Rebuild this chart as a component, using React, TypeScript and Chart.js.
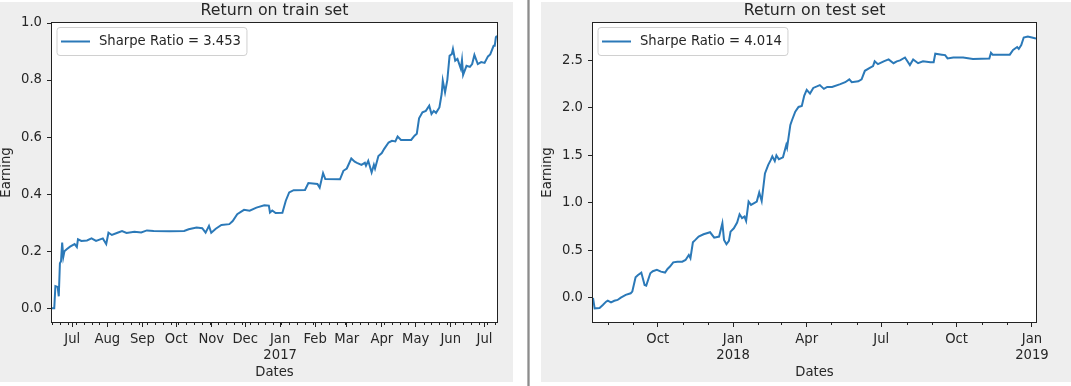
import React, { useEffect, useRef } from 'react';
import { Chart, registerables } from 'chart.js';

Chart.register(...registerables);

// ---------------- data ----------------
const trainDates = [
  '2016-06-13', '2016-06-15', '2016-06-16', '2016-06-18', '2016-06-19', '2016-06-20', '2016-06-21',
  '2016-06-22', '2016-06-23', '2016-06-24', '2016-06-26', '2016-06-29', '2016-07-03', '2016-07-05',
  '2016-07-06', '2016-07-09', '2016-07-14', '2016-07-18', '2016-07-22', '2016-07-28', '2016-07-31',
  '2016-08-02', '2016-08-05', '2016-08-10', '2016-08-14', '2016-08-18', '2016-08-25', '2016-08-31',
  '2016-09-05', '2016-09-11', '2016-09-25', '2016-10-08', '2016-10-12', '2016-10-19', '2016-10-24',
  '2016-10-27', '2016-10-30', '2016-11-01', '2016-11-05', '2016-11-10', '2016-11-17', '2016-11-20',
  '2016-11-24', '2016-11-30', '2016-12-05', '2016-12-11', '2016-12-18', '2016-12-22', '2016-12-23',
  '2016-12-25', '2016-12-28', '2017-01-03', '2017-01-06', '2017-01-09', '2017-01-13', '2017-01-23',
  '2017-01-26', '2017-02-03', '2017-02-05', '2017-02-08', '2017-02-10', '2017-02-23', '2017-02-26',
  '2017-03-01', '2017-03-05', '2017-03-08', '2017-03-10', '2017-03-14', '2017-03-17', '2017-03-18',
  '2017-03-20', '2017-03-23', '2017-03-25', '2017-03-26', '2017-03-29', '2017-04-01', '2017-04-03',
  '2017-04-07', '2017-04-10', '2017-04-13', '2017-04-15', '2017-04-18', '2017-04-27', '2017-04-30',
  '2017-05-02', '2017-05-04', '2017-05-07', '2017-05-10', '2017-05-13', '2017-05-15', '2017-05-17',
  '2017-05-19', '2017-05-22', '2017-05-24', '2017-05-25', '2017-05-27', '2017-05-29', '2017-05-31',
  '2017-06-02', '2017-06-03', '2017-06-05', '2017-06-07', '2017-06-10', '2017-06-11', '2017-06-12',
  '2017-06-15', '2017-06-18', '2017-06-20', '2017-06-22', '2017-06-25', '2017-06-28', '2017-07-01',
  '2017-07-04', '2017-07-06', '2017-07-09', '2017-07-10', '2017-07-11', '2017-07-12',
];
const trainValues = [
  0.0, 0.0, 0.078, 0.075, 0.042, 0.158, 0.165,
  0.23, 0.18, 0.2, 0.207, 0.216, 0.225, 0.215,
  0.242, 0.236, 0.238, 0.245, 0.236, 0.245, 0.225,
  0.265, 0.257, 0.265, 0.271, 0.264, 0.268, 0.266,
  0.273, 0.271, 0.27, 0.271, 0.277, 0.283, 0.281,
  0.265, 0.289, 0.265, 0.279, 0.292, 0.295, 0.306,
  0.33, 0.345, 0.342, 0.353, 0.361, 0.36, 0.336,
  0.343, 0.334, 0.335, 0.377, 0.406, 0.414, 0.415,
  0.439, 0.436, 0.423, 0.474, 0.453, 0.452, 0.482,
  0.49, 0.525, 0.514, 0.51, 0.503, 0.51, 0.5,
  0.517, 0.476, 0.503, 0.49, 0.534, 0.544, 0.558,
  0.581, 0.587, 0.585, 0.602, 0.59, 0.59, 0.605,
  0.612, 0.666, 0.687, 0.692, 0.71, 0.681, 0.692,
  0.685, 0.704, 0.751, 0.798, 0.757, 0.8, 0.885,
  0.891, 0.909, 0.868, 0.874, 0.839, 0.87, 0.818,
  0.85, 0.846, 0.856, 0.888, 0.856, 0.863, 0.86,
  0.883, 0.89, 0.92, 0.92, 0.95, 0.955,
];

const testDates = [
  '2017-07-14', '2017-07-16', '2017-07-22', '2017-07-26', '2017-07-30', '2017-08-01', '2017-08-05',
  '2017-08-09', '2017-08-13', '2017-08-17', '2017-08-23', '2017-08-29', '2017-08-31', '2017-09-04',
  '2017-09-07', '2017-09-11', '2017-09-15', '2017-09-17', '2017-09-22', '2017-09-25', '2017-09-30',
  '2017-10-05', '2017-10-10', '2017-10-13', '2017-10-16', '2017-10-20', '2017-10-25', '2017-10-31',
  '2017-11-04', '2017-11-08', '2017-11-10', '2017-11-13', '2017-11-16', '2017-11-20', '2017-11-26',
  '2017-12-04', '2017-12-09', '2017-12-15', '2017-12-19', '2017-12-21', '2017-12-24', '2017-12-27',
  '2017-12-29', '2018-01-02', '2018-01-06', '2018-01-09', '2018-01-12', '2018-01-15', '2018-01-17',
  '2018-01-20', '2018-01-23', '2018-01-30', '2018-02-02', '2018-02-05', '2018-02-09', '2018-02-13',
  '2018-02-16', '2018-02-18', '2018-02-21', '2018-02-23', '2018-02-26', '2018-03-03', '2018-03-07',
  '2018-03-08', '2018-03-12', '2018-03-14', '2018-03-18', '2018-03-22', '2018-03-26', '2018-03-29',
  '2018-04-01', '2018-04-05', '2018-04-09', '2018-04-17', '2018-04-22', '2018-04-26', '2018-05-02',
  '2018-05-12', '2018-05-18', '2018-05-23', '2018-05-26', '2018-06-03', '2018-06-07', '2018-06-11',
  '2018-06-17', '2018-06-21', '2018-06-23', '2018-06-27', '2018-07-04', '2018-07-10', '2018-07-16',
  '2018-07-20', '2018-07-24', '2018-07-30', '2018-08-05', '2018-08-09', '2018-08-15', '2018-08-21',
  '2018-08-30', '2018-09-03', '2018-09-05', '2018-09-13', '2018-09-17', '2018-09-20', '2018-09-27',
  '2018-10-09', '2018-10-21', '2018-11-10', '2018-11-12', '2018-11-14', '2018-12-05', '2018-12-09',
  '2018-12-14', '2018-12-16', '2018-12-19', '2018-12-22', '2018-12-27', '2019-01-01', '2019-01-06',
];
const testValues = [
  0.0, -0.109, -0.105, -0.074, -0.039, -0.028, -0.046,
  -0.03, -0.021, 0.004, 0.032, 0.049, 0.067, 0.218,
  0.242, 0.267, 0.137, 0.13, 0.26, 0.281, 0.295,
  0.277, 0.267, 0.305, 0.33, 0.375, 0.382, 0.382,
  0.4, 0.453, 0.418, 0.586, 0.611, 0.646, 0.67,
  0.691, 0.635, 0.646, 0.786, 0.611, 0.565, 0.6,
  0.698, 0.733, 0.793, 0.88, 0.84, 0.856, 0.81,
  1.014, 0.979, 1.014, 1.11, 1.02, 1.31, 1.4,
  1.45, 1.49, 1.44, 1.5, 1.46, 1.48, 1.61,
  1.58, 1.82, 1.87, 1.96, 2.01, 2.02, 2.13,
  2.19, 2.15, 2.21, 2.24, 2.2, 2.22, 2.22,
  2.25, 2.27, 2.3, 2.27, 2.28, 2.3, 2.39,
  2.42, 2.44, 2.49, 2.46, 2.49, 2.51, 2.47,
  2.49, 2.5, 2.53, 2.45, 2.51, 2.47, 2.49,
  2.48, 2.48, 2.57, 2.56, 2.555, 2.52, 2.53,
  2.53, 2.515, 2.52, 2.58, 2.56, 2.56, 2.61,
  2.64, 2.62, 2.66, 2.74, 2.75, 2.74, 2.73,
];

const trainMajorDates = [
  '2016-07-01', '2016-08-01', '2016-09-01', '2016-10-01', '2016-11-01', '2016-12-01', '2017-01-01',
  '2017-02-01', '2017-03-01', '2017-04-01', '2017-05-01', '2017-06-01', '2017-07-01',
];
const trainMajorLabels = [
  'Jul', 'Aug', 'Sep', 'Oct', 'Nov', 'Dec', 'Jan\n2017', 'Feb', 'Mar', 'Apr', 'May', 'Jun', 'Jul',
];
const testMajorDates = ['2017-10-01', '2018-01-01', '2018-04-01', '2018-07-01', '2018-10-01', '2019-01-01'];
const testMajorLabels = ['Oct', 'Jan\n2018', 'Apr', 'Jul', 'Oct', 'Jan\n2019'];

const trainYTicks = [0.0, 0.2, 0.4, 0.6, 0.8, 1.0];
const testYTicks = [0.0, 0.5, 1.0, 1.5, 2.0, 2.5];

const trainLegend = 'Sharpe Ratio = 3.453';
const testLegend = 'Sharpe Ratio = 4.014';

// ---------------- styling ----------------
const FAMILY = '"DejaVu Sans", sans-serif';
const TEXT = '#262626';
const AXIS = '#222222';
const LINE = '#2b79b8';
const PANEL_BG = '#eeeeee';
const TICK_SIZE = 13.2;
const TITLE_SIZE = 15.8;
const CANVAS_H = 380;

type Spec = {
  title: string;
  legend: string;
  dates: string[];
  values: number[];
  majorDates: string[];
  majorLabels: string[];
  minor: 'week' | 'month';
  yTicks: number[];
  yMin: number;
  yMax: number;
  width: number;
  rightPad: number;
};

function dayNum(s: string): number {
  const [y, m, d] = s.split('-').map(Number);
  return Date.UTC(y, m - 1, d) / 86400000;
}

function makePanelPlugin(spec: Spec, minors: number[]) {
  return {
    id: 'panelDecor',
    beforeDraw(chart: any) {
      const { ctx, chartArea: a, width, height } = chart;
      ctx.save();
      ctx.fillStyle = PANEL_BG;
      ctx.fillRect(0, 0, width, height);
      ctx.fillStyle = '#ffffff';
      ctx.fillRect(a.left, a.top, a.right - a.left, a.bottom - a.top);
      ctx.restore();
    },
    afterDraw(chart: any) {
      const { ctx, chartArea: a } = chart;
      const xs = chart.scales.x;
      ctx.save();
      // spines
      ctx.strokeStyle = AXIS;
      ctx.lineWidth = 1;
      ctx.strokeRect(a.left - 0.5, a.top - 0.5, a.right - a.left + 1, a.bottom - a.top + 1);
      // minor ticks
      ctx.beginPath();
      for (const m of minors) {
        const px = Math.round(xs.getPixelForValue(m)) + 0.5;
        ctx.moveTo(px, a.bottom);
        ctx.lineTo(px, a.bottom + 3);
      }
      ctx.stroke();
      // title
      ctx.fillStyle = TEXT;
      ctx.font = `${TITLE_SIZE}px ${FAMILY}`;
      ctx.textAlign = 'center';
      ctx.textBaseline = 'alphabetic';
      ctx.fillText(spec.title, (a.left + a.right) / 2, 13);
      // legend
      ctx.font = `${TICK_SIZE}px ${FAMILY}`;
      const tw = ctx.measureText(spec.legend).width;
      const bx = a.left + 5;
      const by = a.top + 4.5;
      const bw = 42 + tw + 6;
      const bh = 28;
      const r = 3;
      ctx.beginPath();
      ctx.moveTo(bx + r, by);
      ctx.lineTo(bx + bw - r, by);
      ctx.arcTo(bx + bw, by, bx + bw, by + r, r);
      ctx.lineTo(bx + bw, by + bh - r);
      ctx.arcTo(bx + bw, by + bh, bx + bw - r, by + bh, r);
      ctx.lineTo(bx + r, by + bh);
      ctx.arcTo(bx, by + bh, bx, by + bh - r, r);
      ctx.lineTo(bx, by + r);
      ctx.arcTo(bx, by, bx + r, by, r);
      ctx.closePath();
      ctx.fillStyle = 'rgba(255,255,255,0.8)';
      ctx.fill();
      ctx.strokeStyle = '#d0d0d0';
      ctx.lineWidth = 1;
      ctx.stroke();
      ctx.strokeStyle = LINE;
      ctx.lineWidth = 2;
      ctx.beginPath();
      ctx.moveTo(bx + 4, by + bh / 2);
      ctx.lineTo(bx + 33, by + bh / 2);
      ctx.stroke();
      ctx.fillStyle = TEXT;
      ctx.textAlign = 'left';
      ctx.textBaseline = 'middle';
      ctx.fillText(spec.legend, bx + 42, by + bh / 2 + 0.5);
      ctx.restore();
    },
  };
}

function buildChart(canvas: HTMLCanvasElement, spec: Spec) {
  const xs = spec.dates.map(dayNum);
  const points = xs.map((x, i) => ({ x, y: spec.values[i] }));
  const xMin = xs[0];
  const xMax = xs[xs.length - 1];
  const majors = spec.majorDates.map(dayNum);
  const minors: number[] = [];
  for (let d = Math.ceil(xMin); d <= xMax; d++) {
    if (majors.includes(d)) continue;
    if (spec.minor === 'week') {
      if (((d % 7) + 7) % 7 === 4) minors.push(d);
    } else {
      if (new Date(d * 86400000).getUTCDate() === 1) minors.push(d);
    }
  }
  const tickFont = { family: FAMILY, size: TICK_SIZE };
  const titleFont = { family: FAMILY, size: TICK_SIZE, lineHeight: 1.0 };

  return new Chart(canvas, {
    type: 'line',
    data: {
      datasets: [
        {
          label: spec.legend,
          data: points,
          borderColor: LINE,
          backgroundColor: LINE,
          borderWidth: 2,
          pointRadius: 0,
          tension: 0,
          fill: false,
        },
      ],
    },
    options: {
      animation: false,
      responsive: false,
      events: [],
      layout: { padding: { left: 0, right: spec.rightPad, top: 21, bottom: 0 } },
      plugins: {
        legend: { display: false },
        title: { display: false },
        tooltip: { enabled: false },
      },
      scales: {
        x: {
          type: 'linear',
          min: xMin,
          max: xMax,
          afterBuildTicks: (scale: any) => {
            scale.ticks = majors.map((v) => ({ value: v }));
          },
          afterFit: (scale: any) => {
            scale.height = 60;
          },
          ticks: {
            autoSkip: false,
            maxRotation: 0,
            minRotation: 0,
            padding: 5,
            color: TEXT,
            font: tickFont,
            callback: (value: any) => {
              const idx = majors.indexOf(Number(value));
              return idx >= 0 ? spec.majorLabels[idx].split('\n') : '';
            },
          },
          grid: {
            drawOnChartArea: false,
            drawTicks: true,
            tickLength: 5,
            color: AXIS,
            tickColor: AXIS,
            lineWidth: 1,
          },
          border: { display: false },
          title: {
            display: true,
            text: 'Dates',
            color: TEXT,
            font: titleFont,
            padding: { top: 0, bottom: 2.4 },
          },
        },
        y: {
          type: 'linear',
          min: spec.yMin,
          max: spec.yMax,
          afterBuildTicks: (scale: any) => {
            scale.ticks = spec.yTicks.map((v) => ({ value: v }));
          },
          afterFit: (scale: any) => {
            scale.width = 52;
          },
          ticks: {
            padding: 5,
            color: TEXT,
            font: tickFont,
            callback: (value: any) => Number(value).toFixed(1),
          },
          grid: {
            drawOnChartArea: false,
            drawTicks: true,
            tickLength: 5,
            color: AXIS,
            tickColor: AXIS,
            lineWidth: 1,
          },
          border: { display: false },
          title: {
            display: true,
            text: 'Earning',
            color: TEXT,
            font: titleFont,
            padding: { top: 0, bottom: 2.4 },
          },
        },
      },
    } as any,
    plugins: [makePanelPlugin(spec, minors) as any],
  });
}

function Panel({ spec }: { spec: Spec }) {
  const ref = useRef<HTMLCanvasElement | null>(null);
  useEffect(() => {
    if (!ref.current) return;
    const chart = buildChart(ref.current, spec);
    return () => chart.destroy();
  }, [spec]);
  return (
    <canvas
      ref={ref}
      width={spec.width}
      height={CANVAS_H}
      style={{ display: 'block', width: spec.width, height: CANVAS_H }}
    />
  );
}

const trainSpec: Spec = {
  title: 'Return on train set',
  legend: trainLegend,
  dates: trainDates,
  values: trainValues,
  majorDates: trainMajorDates,
  majorLabels: trainMajorLabels,
  minor: 'week',
  yTicks: trainYTicks,
  yMin: -0.048,
  yMax: 1.0,
  width: 513,
  rightPad: 16,
};

const testSpec: Spec = {
  title: 'Return on test set',
  legend: testLegend,
  dates: testDates,
  values: testValues,
  majorDates: testMajorDates,
  majorLabels: testMajorLabels,
  minor: 'month',
  yTicks: testYTicks,
  yMin: -0.253,
  yMax: 2.893,
  width: 530,
  rightPad: 35,
};

export default function App() {
  useEffect(() => {
    document.body.style.margin = '0';
  }, []);
  return (
    <div
      style={{
        position: 'absolute',
        left: 0,
        top: 0,
        width: 1071,
        height: 386,
        background: '#ffffff',
        overflow: 'hidden',
      }}
    >
      <div style={{ position: 'absolute', left: 0, top: 2 }}>
        <Panel spec={trainSpec} />
      </div>
      <div
        style={{
          position: 'absolute',
          left: 527,
          top: 0,
          width: 3,
          height: 386,
          background: 'linear-gradient(to right, #c8c8c8, #8c8c8c, #c8c8c8)',
        }}
      />
      <div style={{ position: 'absolute', left: 541, top: 2 }}>
        <Panel spec={testSpec} />
      </div>
    </div>
  );
}
